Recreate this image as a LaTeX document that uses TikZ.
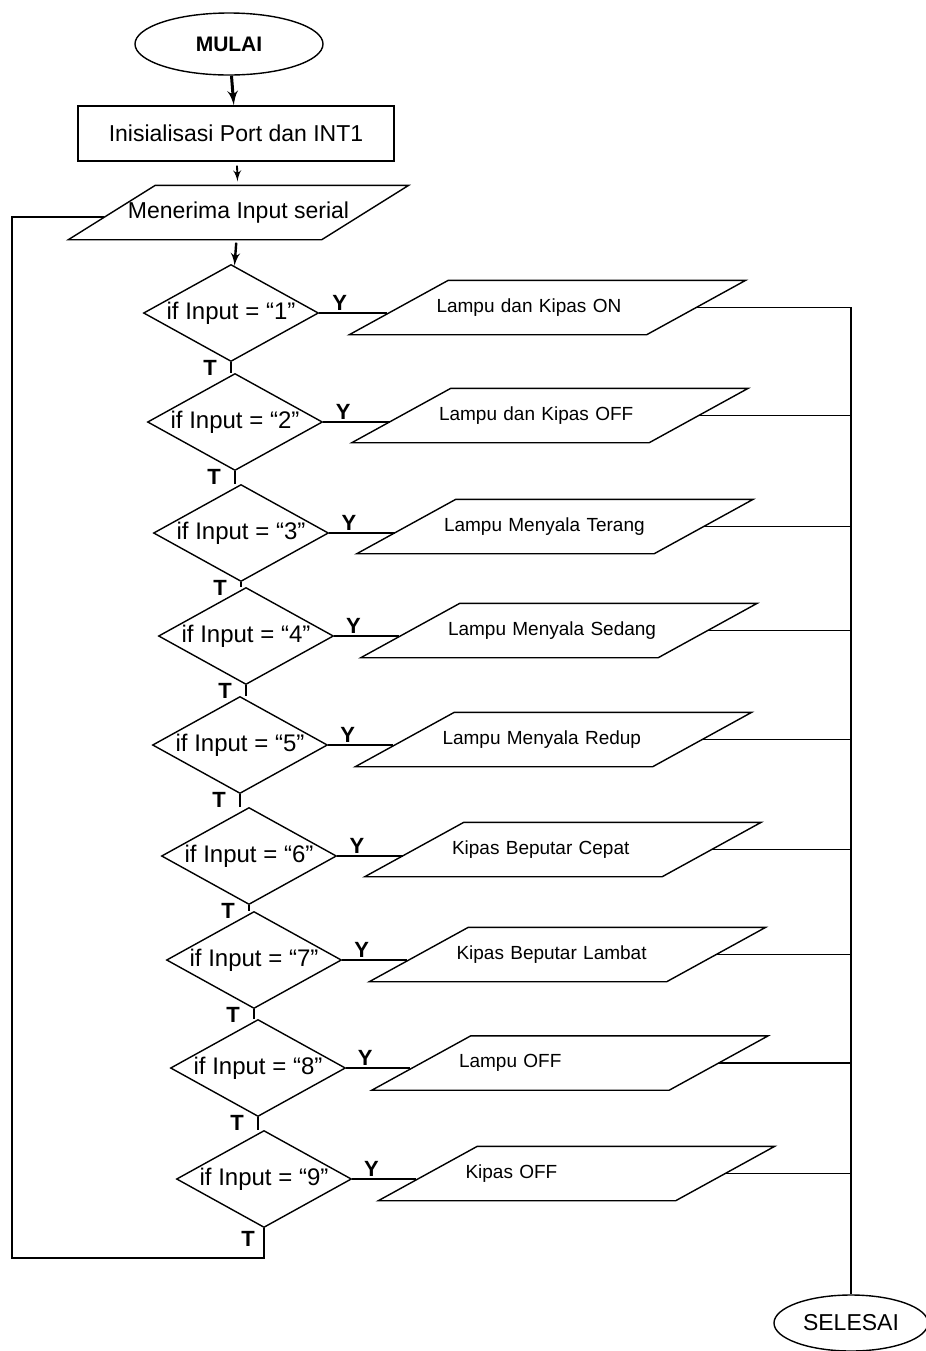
\documentclass[tikz,border=0pt]{standalone}
\usepackage{fontspec}
\setmainfont{Liberation Sans}
\usetikzlibrary{arrows,shapes.geometric,calc}

\begin{document}
\begin{tikzpicture}[>=latex',x=0.5pt,y=-0.5pt,line width=0.7pt]
      \tikzstyle{terminal}=[ellipse,draw,inner sep=0pt]
      \tikzstyle{process}=[rectangle,draw,minimum width=158pt,minimum height=27.5pt,
                           font=\fontsize{11.5}{13}\selectfont]
      \tikzstyle{io}=[rectangle,minimum width=169.5pt,minimum height=26.5pt,
                      font=\fontsize{11.5}{13}\selectfont,
                      append after command={\pgfextra{\draw[line width=0.7pt] (\tikzlastnode.south west)
                        -- ([xshift=43.5pt]\tikzlastnode.north west) -- (\tikzlastnode.north east)
                        -- ([xshift=-43.5pt]\tikzlastnode.south east) -- cycle;}}]
      \tikzstyle{output}=[rectangle,minimum width=197.5pt,minimum height=26.5pt,
                          text width=111pt,align=left,
                          font=\fontsize{9.5}{11}\selectfont,
                          append after command={\pgfextra{\draw[line width=0.7pt] (\tikzlastnode.south west)
                            -- ([xshift=49.5pt]\tikzlastnode.north west) -- (\tikzlastnode.north east)
                            -- ([xshift=-49.5pt]\tikzlastnode.south east) -- cycle;}}]
      \tikzstyle{decision}=[diamond,draw,aspect=1.8,inner sep=0pt,
                            minimum width=87.5pt,minimum height=48.5pt,
                            font=\fontsize{12}{14}\selectfont]
      \tikzstyle{answer}=[font=\fontsize{11}{13}\selectfont\bfseries,inner sep=1pt]
      \tikzstyle{tick}=[line width=1.2pt]

      \useasboundingbox (0,0) rectangle (926,1351);

      \node[terminal,minimum width=94pt,minimum height=31pt,
            font=\fontsize{10.5}{12}\selectfont\bfseries] (mulai) at (229,44) {MULAI};
      \node[process] (init)   at (236,133.5) {Inisialisasi Port dan INT1};
      \node[io]      (terima) at (238.5,212.5) {Menerima Input serial};

      \node[decision] (if1) at (231,313)  {if Input = “1”};
      \node[decision] (if2) at (235,422)  {if Input = “2”};
      \node[decision] (if3) at (241,533)  {if Input = “3”};
      \node[decision] (if4) at (246,636)  {if Input = “4”};
      \node[decision] (if5) at (240,745)  {if Input = “5”};
      \node[decision] (if6) at (249,856)  {if Input = “6”};
      \node[decision] (if7) at (254,960)  {if Input = “7”};
      \node[decision] (if8) at (258,1068) {if Input = “8”};
      \node[decision] (if9) at (264,1179) {if Input = “9”};

      \node[output] (out1) at (547.5,307.5)  {Lampu dan Kipas ON};
      \node[output] (out2) at (550,415.5)    {Lampu dan Kipas OFF};
      \node[output] (out3) at (555,526.5)    {Lampu Menyala Terang};
      \node[output] (out4) at (559,630.5)    {Lampu Menyala Sedang};
      \node[output] (out5) at (553.5,739.5)  {Lampu Menyala Redup};
      \node[output] (out6) at (563,849.5)    {Kipas Beputar Cepat};
      \node[output] (out7) at (567.5,954.5)  {Kipas Beputar Lambat};
      \node[output] (out8) at (570,1063)     {Lampu OFF};
      \node[output] (out9) at (576.5,1173.5) {Kipas OFF};

      \node[terminal,minimum width=77pt,minimum height=28pt,
            font=\fontsize{11.5}{13}\selectfont] (selesai) at (851,1323) {SELESAI};

      \coordinate (back) at (12,1258);

      % alur utama
      \draw[->,line width=1.5pt] (mulai) -- (init);
      \draw[->,line width=0.9pt,shorten <=2pt,shorten >=2pt] (init) -- (terima);
      \draw[->,line width=1.2pt,shorten <=1.5pt] (terima) -- (if1);

      % cabang T
      \draw[tick] (if1.south) -- (if1.south |- if2.north);
      \draw[tick] (if2.south) -- (if2.south |- if3.north);
      \draw[tick] (if3.south) -- (if3.south |- if4.north);
      \draw[tick] (if4.south) -- (if4.south |- if5.north);
      \draw[tick] (if5.south) -- (if5.south |- if6.north);
      \draw[tick] (if6.south) -- (if6.south |- if7.north);
      \draw[tick] (if7.south) -- (if7.south |- if8.north);
      \draw[tick] (if8.south) -- (if8.south |- if9.north);
      \draw[line width=1pt] (if9.south) |- (back) |- ($(terima.west)+(36,4.5)$);

      \node[answer] (t1) at ($(if1.south)+(-21,6)$) {T};
      \node[answer] (t2) at ($(if2.south)+(-21,6)$) {T};
      \node[answer] (t3) at ($(if3.south)+(-21,6)$) {T};
      \node[answer] (t4) at ($(if4.south)+(-21,6)$) {T};
      \node[answer] (t5) at ($(if5.south)+(-21,6)$) {T};
      \node[answer] (t6) at ($(if6.south)+(-21,6)$) {T};
      \node[answer] (t7) at ($(if7.south)+(-21,6)$) {T};
      \node[answer] (t8) at ($(if8.south)+(-21,6)$) {T};
      \node[answer] (t9) at ($(if9.south)+(-16,11)$) {T};

      % cabang Y
      \draw (if1.east) -- node[answer,pos=0.3,above] (y1) {Y} ($(if1.east -| out1.west)+(38,0)$);
      \draw (if2.east) -- node[answer,pos=0.3,above] (y2) {Y} ($(if2.east -| out2.west)+(38,0)$);
      \draw (if3.east) -- node[answer,pos=0.3,above] (y3) {Y} ($(if3.east -| out3.west)+(38,0)$);
      \draw (if4.east) -- node[answer,pos=0.3,above] (y4) {Y} ($(if4.east -| out4.west)+(38,0)$);
      \draw (if5.east) -- node[answer,pos=0.3,above] (y5) {Y} ($(if5.east -| out5.west)+(38,0)$);
      \draw (if6.east) -- node[answer,pos=0.3,above] (y6) {Y} ($(if6.east -| out6.west)+(38,0)$);
      \draw (if7.east) -- node[answer,pos=0.3,above] (y7) {Y} ($(if7.east -| out7.west)+(38,0)$);
      \draw (if8.east) -- node[answer,pos=0.3,above] (y8) {Y} ($(if8.east -| out8.west)+(38,0)$);
      \draw (if9.east) -- node[answer,pos=0.3,above] (y9) {Y} ($(if9.east -| out9.west)+(38,0)$);

      % ke selesai
      \draw ($(out1.east)+(-49.5,0)$) -| (selesai.north);
      \draw ($(out2.east)+(-49.5,0)$) -- (out2.east -| selesai.north);
      \draw ($(out3.east)+(-49.5,0)$) -- (out3.east -| selesai.north);
      \draw ($(out4.east)+(-49.5,0)$) -- (out4.east -| selesai.north);
      \draw ($(out5.east)+(-49.5,0)$) -- (out5.east -| selesai.north);
      \draw ($(out6.east)+(-49.5,0)$) -- (out6.east -| selesai.north);
      \draw ($(out7.east)+(-49.5,0)$) -- (out7.east -| selesai.north);
      \draw ($(out8.east)+(-49.5,0)$) -- (out8.east -| selesai.north);
      \draw ($(out9.east)+(-49.5,0)$) -- (out9.east -| selesai.north);
\end{tikzpicture}
\end{document}
